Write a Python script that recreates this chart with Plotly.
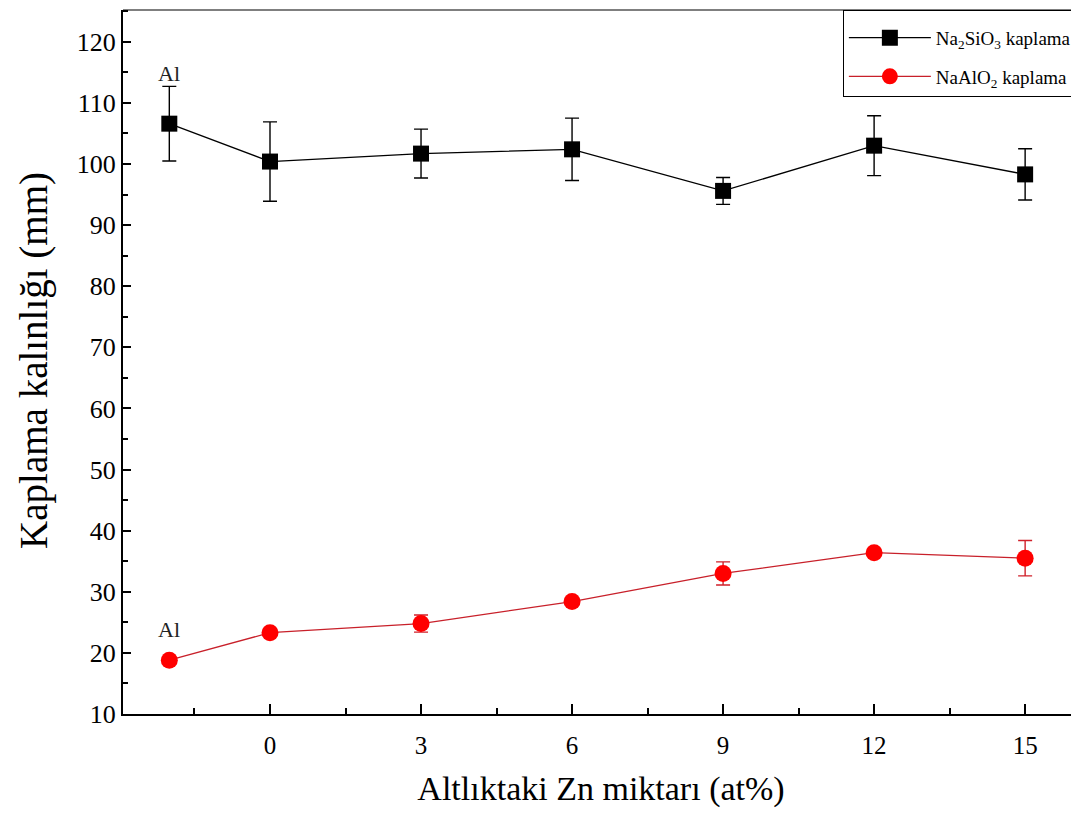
import plotly.graph_objects as go

# Data
x_pos = [-2, 0, 3, 6, 9, 12, 15]          # -2 corresponds to pure Al substrate
na2sio3 = [106.6, 100.4, 101.7, 102.4, 95.6, 103.0, 98.3]
na2sio3_err = [6.1, 6.5, 4.0, 5.1, 2.2, 4.9, 4.2]
naalo2 = [18.8, 23.3, 24.8, 28.4, 33.0, 36.4, 35.5]
naalo2_err = [0.3, 0.4, 1.4, 0.6, 1.9, 0.4, 2.9]
x_ticks = [0, 3, 6, 9, 12, 15]
y_ticks = [10, 20, 30, 40, 50, 60, 70, 80, 90, 100, 110, 120]

FONT = "Liberation Serif"

fig = go.Figure()
fig.add_trace(go.Scatter(
    x=x_pos, y=na2sio3, mode="lines+markers",
    name="Na<sub>2</sub>SiO<sub>3</sub> kaplama",
    line=dict(color="black", width=1.3),
    marker=dict(symbol="square", size=16, color="black"),
    error_y=dict(type="data", array=na2sio3_err, color="black", thickness=1.4, width=7),
    legendgroup="a",
))
fig.add_trace(go.Scatter(
    x=x_pos, y=naalo2, mode="lines+markers",
    name="NaAlO<sub>2</sub> kaplama",
    line=dict(color="#c8202a", width=1.3),
    marker=dict(symbol="circle", size=17, color="#ff0000"),
    error_y=dict(type="data", array=naalo2_err, color="#d0202a", thickness=1.4, width=7),
    legendgroup="b",
))

fig.add_annotation(x=-2, y=114.8, text="Al", showarrow=False,
                   font=dict(family=FONT, size=22, color="#222"))
fig.add_annotation(x=-2, y=23.8, text="Al", showarrow=False,
                   font=dict(family=FONT, size=22, color="#222"))

# y-axis title
fig.add_annotation(xref="paper", yref="paper", x=-0.0931, y=0.503,
                   xanchor="center", yanchor="middle", textangle=-90,
                   text="Kaplama kalınlığı (mm)", showarrow=False, borderpad=0,
                   font=dict(family=FONT, size=39, color="black"))

# thin top frame line
fig.add_shape(type="line", xref="paper", yref="paper", x0=0, x1=1, y0=1, y1=1,
              line=dict(color="black", width=1.2))

fig.update_layout(
    width=1071, height=811,
    margin=dict(l=115, r=0, t=2, b=105),
    plot_bgcolor="white", paper_bgcolor="white",
    font=dict(family=FONT, color="black"),
    showlegend=True,
    legend=dict(x=0.753, y=1, xanchor="left", yanchor="top",
                bgcolor="white", bordercolor="black", borderwidth=1,
                title=dict(text="\u00a0", font=dict(family=FONT, size=6)),
                font=dict(family=FONT, size=19), tracegroupgap=11, itemwidth=82),
    xaxis=dict(
        range=[-2.92, 16.07], showgrid=False, zeroline=False,
        showline=True, linecolor="black", linewidth=2,
        tickmode="array", tickvals=x_ticks, ticks="inside", ticklen=10, tickwidth=2,
        tickcolor="black", tickfont=dict(family=FONT, size=25), ticklabelstandoff=8,
        minor=dict(tickmode="linear", tick0=-1.5, dtick=3, ticks="inside",
                   ticklen=6, tickwidth=2, tickcolor="black"),
        title=dict(text="Altlıktaki Zn miktarı (at%)", font=dict(family=FONT, size=34), standoff=18),
    ),
    yaxis=dict(
        range=[10, 125.2], showgrid=False, zeroline=False,
        showline=True, linecolor="black", linewidth=2,
        tickmode="array", tickvals=y_ticks, ticks="inside", ticklen=8, tickwidth=2,
        tickcolor="black", tickfont=dict(family=FONT, size=26),
        ticksuffix="\u00a0\u00a0",
        minor=dict(tickmode="linear", tick0=5, dtick=10, ticks="inside",
                   ticklen=5, tickwidth=2, tickcolor="black"),
    ),
)

fig.write_html("out.html")
